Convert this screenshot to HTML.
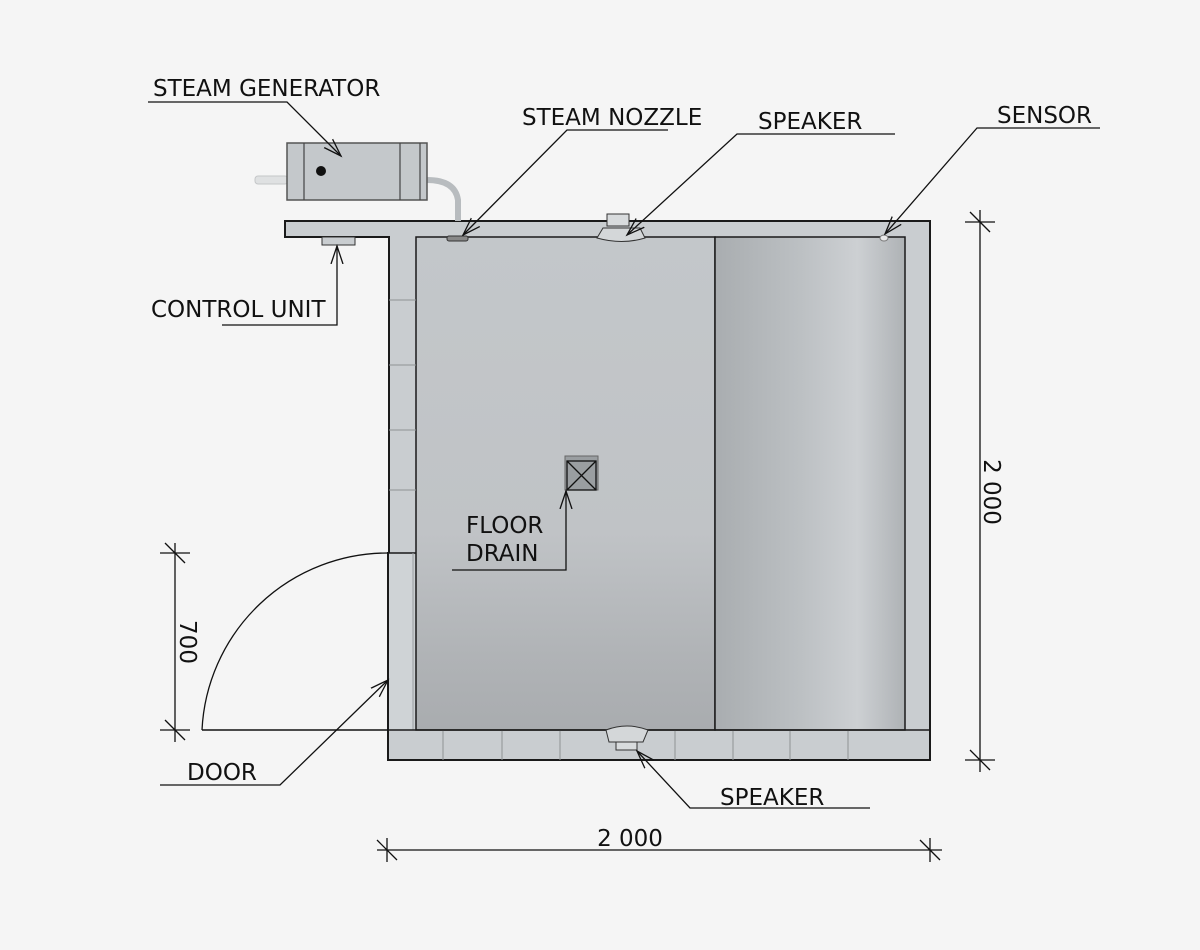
<!DOCTYPE html>
<html><head><meta charset="utf-8"><style>
html,body{margin:0;padding:0;background:#f5f5f5}
svg{display:block}
text{font-family:"DejaVu Sans","Liberation Sans",sans-serif;font-size:23px;fill:#111}
</style></head><body>
<svg width="1200" height="950" viewBox="0 0 1200 950" xmlns="http://www.w3.org/2000/svg">
<defs>
<linearGradient id="fl" x1="0" y1="0" x2="0" y2="1">
<stop offset="0" stop-color="#c3c7ca"/><stop offset="0.6" stop-color="#c0c3c6"/><stop offset="0.85" stop-color="#b0b3b6"/><stop offset="1" stop-color="#a9acaf"/></linearGradient>
<linearGradient id="rt" x1="0" y1="0" x2="1" y2="0">
<stop offset="0" stop-color="#a9adb0"/><stop offset="0.45" stop-color="#bcc0c3"/><stop offset="0.75" stop-color="#cdd0d3"/><stop offset="1" stop-color="#aeb2b5"/></linearGradient>
<marker id="ar" markerWidth="20" markerHeight="20" refX="18" refY="10" orient="auto" markerUnits="userSpaceOnUse">
<path d="M0,4 L18,10 L0,16" fill="none" stroke="#111" stroke-width="1.3"/></marker>
</defs>
<rect width="1200" height="950" fill="#f5f5f5"/>

<!-- walls -->
<path d="M285,221 L930,221 L930,760 L388,760 L388,553 L389,553 L389,237 L285,237 Z" fill="#c9cdd0" stroke="#1a1a1a" stroke-width="2"/>
<rect x="389" y="553" width="24" height="177" fill="#cfd3d6"/>
<line x1="388" y1="553" x2="388" y2="760" stroke="#1a1a1a" stroke-width="2"/>
<!-- interior -->
<rect x="416" y="237" width="299" height="493" fill="url(#fl)" stroke="#1a1a1a" stroke-width="1.5"/>
<rect x="715" y="237" width="190" height="493" fill="url(#rt)" stroke="#1a1a1a" stroke-width="1.5"/>
<line x1="389" y1="553" x2="416" y2="553" stroke="#1a1a1a" stroke-width="1.5"/>
<line x1="413" y1="553" x2="413" y2="730" stroke="#9a9ea1" stroke-width="1"/>
<!-- tiles -->
<g stroke="#8e9295" stroke-width="1">
<line x1="389" y1="300" x2="416" y2="300"/><line x1="389" y1="365" x2="416" y2="365"/>
<line x1="389" y1="430" x2="416" y2="430"/><line x1="389" y1="490" x2="416" y2="490"/>
<line x1="443" y1="730" x2="443" y2="760"/><line x1="502" y1="730" x2="502" y2="760"/>
<line x1="560" y1="730" x2="560" y2="760"/><line x1="675" y1="730" x2="675" y2="760"/>
<line x1="733" y1="730" x2="733" y2="760"/><line x1="790" y1="730" x2="790" y2="760"/>
<line x1="848" y1="730" x2="848" y2="760"/>
</g>
<line x1="388" y1="730" x2="930" y2="730" stroke="#1a1a1a" stroke-width="1.5"/>

<!-- steam generator -->
<path d="M427,180 Q455,180 458,200 L458,221" fill="none" stroke="#b8bcbf" stroke-width="6"/>
<rect x="255" y="176" width="33" height="8" rx="3" fill="#dfe1e2" stroke="#c4c6c8"/>
<rect x="287" y="143" width="140" height="57" fill="#c4c8cb" stroke="#555" stroke-width="1.5"/>
<g stroke="#444" stroke-width="1.2"><line x1="304" y1="143" x2="304" y2="200"/><line x1="400" y1="143" x2="400" y2="200"/><line x1="420" y1="143" x2="420" y2="200"/></g>
<circle cx="321" cy="171" r="5" fill="#111"/>
<!-- control unit -->
<rect x="322" y="237" width="33" height="8" fill="#c9cdd0" stroke="#333"/>
<!-- nozzle -->
<rect x="447" y="236" width="21" height="5" rx="2" fill="#888" stroke="#333"/>
<!-- speakers -->
<rect x="607" y="214" width="22" height="12" fill="#d8dbdd" stroke="#333"/>
<path d="M603,228 L640,228 L645,238 Q622,245 597,238 Z" fill="#d4d7d9" stroke="#333"/>
<path d="M606,730 Q627,722 648,730 L643,742 L609,742 Z" fill="#d4d7d9" stroke="#333"/>
<rect x="616" y="742" width="21" height="8" fill="#d8dbdd" stroke="#333"/>
<!-- sensor -->
<ellipse cx="884" cy="238" rx="4" ry="3" fill="#e8e8e8" stroke="#777"/>
<!-- drain -->
<rect x="565" y="456" width="33" height="34" fill="#9a9ea1" stroke="#666"/>
<rect x="567" y="461" width="29" height="29" fill="none" stroke="#111" stroke-width="1.3"/>
<path d="M567,461 L596,490 M596,461 L567,490" stroke="#111" stroke-width="1.3"/>

<!-- door arc -->
<path d="M202,730 A186,186 0 0 1 388,553" fill="none" stroke="#111" stroke-width="1.3"/>
<line x1="202" y1="730" x2="388" y2="730" stroke="#111" stroke-width="1.5"/>

<!-- leaders -->
<g fill="none" stroke="#111" stroke-width="1.3">
<path d="M148,102 L287,102 L341,156" marker-end="url(#ar)"/>
<path d="M668,130 L567,130 L463,235" marker-end="url(#ar)"/>
<path d="M895,134 L737,134 L627,235" marker-end="url(#ar)"/>
<path d="M1100,128 L977,128 L885,234" marker-end="url(#ar)"/>
<path d="M222,325 L337,325 L337,246" marker-end="url(#ar)"/>
<path d="M160,785 L280,785 L388,680" marker-end="url(#ar)"/>
<path d="M870,808 L690,808 L637,751" marker-end="url(#ar)"/>
<path d="M452,570 L566,570 L566,491" marker-end="url(#ar)"/>
</g>

<!-- dimensions -->
<g stroke="#111" stroke-width="1.3">
<line x1="175" y1="543" x2="175" y2="742"/>
<line x1="160" y1="553" x2="190" y2="553"/><line x1="165" y1="543" x2="185" y2="563"/>
<line x1="160" y1="730" x2="190" y2="730"/><line x1="165" y1="720" x2="185" y2="740"/>
<line x1="980" y1="210" x2="980" y2="772"/>
<line x1="965" y1="222" x2="995" y2="222"/><line x1="970" y1="212" x2="990" y2="232"/>
<line x1="965" y1="760" x2="995" y2="760"/><line x1="970" y1="750" x2="990" y2="770"/>
<line x1="377" y1="850" x2="942" y2="850"/>
<line x1="387" y1="838" x2="387" y2="862"/><line x1="377" y1="840" x2="397" y2="860"/>
<line x1="930" y1="838" x2="930" y2="862"/><line x1="920" y1="840" x2="940" y2="860"/>
</g>
<text transform="translate(180,642) rotate(90)" text-anchor="middle">700</text>
<text transform="translate(984,492) rotate(90)" text-anchor="middle">2 000</text>
<text x="630" y="846" text-anchor="middle">2 000</text>

<!-- labels -->
<text x="153" y="96">STEAM GENERATOR</text>
<text x="522" y="125">STEAM NOZZLE</text>
<text x="758" y="129">SPEAKER</text>
<text x="997" y="123">SENSOR</text>
<text x="151" y="317">CONTROL UNIT</text>
<text x="466" y="533">FLOOR</text>
<text x="466" y="561">DRAIN</text>
<text x="187" y="780">DOOR</text>
<text x="720" y="805">SPEAKER</text>
</svg>
</body></html>
